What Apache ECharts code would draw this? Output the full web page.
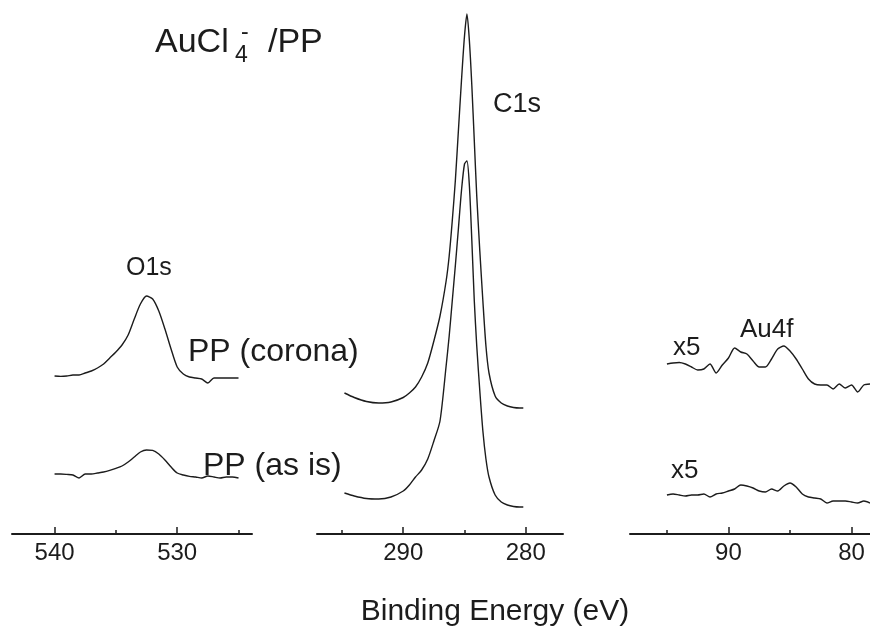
<!DOCTYPE html>
<html><head><meta charset="utf-8">
<script src="https://cdn.jsdelivr.net/npm/echarts@6/dist/echarts.min.js"></script>
<style>html,body{margin:0;padding:0;background:#fff}#c{width:870px;height:632px}</style>
</head><body><div id="c"></div>
<script>
// ---- O1s region ----
const oEnergy = [540,539.5,539,538.5,538,537.5,537,536.5,536,535.5,535,534.5,534,533.5,533,532.5,532,531.5,531,530.5,530,529.5,529,528.5,528,527.5,527,526.5,526,525.5,525];
const oCorona = [79,78.8,79,79.5,79.5,80.5,81.5,83,85,88,91,94.5,99.5,107.5,115,119,117.5,111.5,102.5,92.5,83.5,80,78.5,78,77.5,75.5,78,78,78,78,78];
const oAsIs   = [30,30,29.8,29.5,28,30,30,30.5,31,31.8,32.8,34,36,38.5,41,42,41.8,40,37,33.5,30.5,29.5,28.8,28.5,28,29,28.5,28,28.5,28.5,28];
// ---- C1s region ----
const cEnergy = [294.8,294,293,292,291,290,289.5,289,288.5,288,287.5,287,286.5,286.25,286,285.75,285.5,285.25,285,284.8,284.6,284.4,284.2,284,283.75,283.5,283.25,283,282.5,282,281.5,281,280.5,280.2];
const cCorona = [70.5,68.25,66.25,65.5,66,68.25,70.5,73.5,78.5,85.5,96.5,109,126.5,139,156.5,176.5,201.5,226.5,249,260,246.5,224,196.5,169,141.5,116.5,94,80.5,69,65.5,64,63.25,63,63];
const cAsIs   = [20.5,19,17.75,17.5,18.5,21.5,24.5,28.5,32,37.5,46.5,56.5,84,99,116.5,134,152.5,171.5,185,186.5,174,146.5,116.5,94,71.5,51.5,37.5,28.5,19.5,16,14.5,13.75,13.5,13.5];
// ---- Au4f region (x5) ----
const auEnergy = [95,94.5,94,93.5,93,92.5,92,91.5,91,90.5,90,89.5,89,88.5,88,87.5,87,86.5,86,85.5,85,84.5,84,83.5,83,82.5,82,81.5,81,80.5,80,79.5,79,78.5];
const auCorona = [85,85.5,85.75,85,83.5,82,82.5,85,80.5,84.5,88,93,91,90,86.5,83.5,83.5,87.5,92.5,94,91.5,87.5,82.5,77.5,75,74.5,74.5,72.5,75,73,74.5,71,74.5,75];
const auAsIs   = [19.5,20,19.5,19,19.5,19.5,20,18.5,20,20.5,21.5,22.5,24.5,24,23,21.5,21,22.5,21.5,24,25.5,23.5,20,18.5,18,17.5,15.5,16.5,16.5,16.5,16,15.5,16.5,15.5];
// ---- axes ----
const axisRanges = [[523.9,543.47],[276.96,297.04],[78.5,98]];
const majorTicks = [[530,540],[280,290],[80,90]];
const minorTicks = [[525,535],[285,295],[85,95]];
const axisTitle = 'Binding Energy (eV)';

const INK = '#1c1c1c';
const FONT = '"Liberation Sans", Arial, Helvetica, sans-serif';
const grids = [
  {left:12, width:240, top:4, height:530},
  {left:317, width:246, top:4, height:530},
  {left:630, width:240, top:4, height:530}
];
const xAxes = [], yAxes = [];
for (let i=0;i<3;i++){
  xAxes.push({gridIndex:i, type:'value', position:'bottom', inverse:true,
    min:axisRanges[i][0], max:axisRanges[i][1],
    axisLine:{show:true, onZero:false, lineStyle:{color:INK, width:2}},
    axisTick:{show:true, inside:true, length:7, customValues:majorTicks[i], lineStyle:{color:INK, width:1.5}},
    axisLabel:{show:true, customValues:majorTicks[i], color:INK, fontSize:24, fontFamily:FONT, margin:7},
    splitLine:{show:false}});
  yAxes.push({gridIndex:i, type:'value', min:0, max:265, show:false});
}
for (let i=0;i<3;i++){
  xAxes.push({gridIndex:i, type:'value', position:'bottom', inverse:true,
    min:axisRanges[i][0], max:axisRanges[i][1],
    axisLine:{show:false, onZero:false},
    axisTick:{show:true, inside:true, length:4, customValues:minorTicks[i], lineStyle:{color:INK, width:1.5}},
    axisLabel:{show:false}, splitLine:{show:false}});
}
const zip = (a,b)=>a.map((v,k)=>[v,b[k]]);
function line(idx, xs, ys){
  return {type:'line', xAxisIndex:idx, yAxisIndex:idx, data:zip(xs,ys), showSymbol:false, smooth:0.25,
    lineStyle:{color:INK, width:1.4}, silent:true, animation:false};
}
const series = [
  line(0,oEnergy,oCorona), line(0,oEnergy,oAsIs),
  line(1,cEnergy,cCorona), line(1,cEnergy,cAsIs),
  line(2,auEnergy,auCorona), line(2,auEnergy,auAsIs)
];
function txt(s, x, y, size, align){
  return {type:'text', x:x, y:y, silent:true,
    style:{text:s, font:size+'px '+FONT, fill:INK, align:align||'left', verticalAlign:'middle'}};
}
const graphic = [
  txt('AuCl',155,43,34), txt('4',235,56,23), txt('-',241,33,23), txt('/PP',268,43,34),
  txt('O1s',126,268,25), txt('C1s',493,105,27), txt('Au4f',740,330,26),
  txt('PP (corona)',188,352,32), txt('PP (as is)',203,466,32),
  txt('x5',673,348,26), txt('x5',671,471,26),
  txt(axisTitle,495,612,30,'center')
];
const chart = echarts.init(document.getElementById('c'), null, {renderer:'canvas'});
chart.setOption({animation:false, backgroundColor:'#fff', grid:grids, xAxis:xAxes, yAxis:yAxes, series:series, graphic:graphic});
</script></body></html>
